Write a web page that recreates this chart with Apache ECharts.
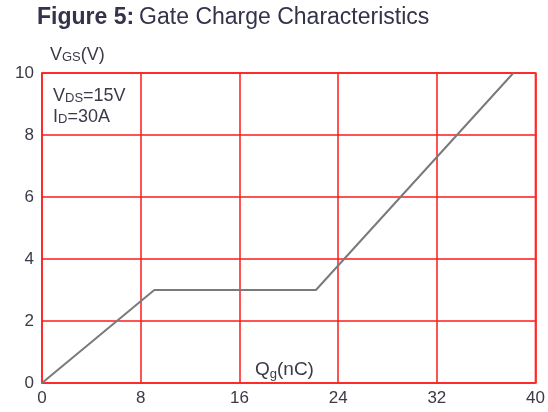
<!DOCTYPE html>
<html>
<head>
<meta charset="utf-8">
<script src="https://cdn.jsdelivr.net/npm/echarts@6/dist/echarts.min.js"></script>
<style>
  html, body { margin: 0; padding: 0; background: #fff; }
  #chart { width: 548px; height: 412px; }
</style>
</head>
<body>
<div id="chart"></div>
<script>
// Gate charge curve: Qg (nC) vs VGS (V)
const gateCharge = [0, 9.1, 22.2, 38.2];
const gateVoltage = [0, 3.0, 3.0, 10];
const xTicks = [0, 8, 16, 24, 32, 40];
const yTicks = [0, 2, 4, 6, 8, 10];

const FONT = '"Liberation Sans", Arial, sans-serif';
const TEXT = '#3a3a48';
const RED = '#ff1a1a';

const chart = echarts.init(document.getElementById('chart'), null, { renderer: 'canvas' });

// main text token + smaller "subscript" token kept near the main baseline
function styles(size, subSize, lh, lift) {
  return {
    m: { fontSize: size, fontWeight: 'normal', fontFamily: FONT, color: TEXT, lineHeight: lh },
    s: { fontSize: subSize, fontWeight: 'normal', fontFamily: FONT, color: TEXT, lineHeight: lh, verticalAlign: 'bottom', padding: [0, 0, lift, 0] }
  };
}

chart.setOption({
  animation: false,
  backgroundColor: '#fff',
  title: [
    {
      text: '{b|Figure 5:} {n|Gate Charge Characteristics}',
      left: 37, top: 6, padding: 0,
      textStyle: {
        fontWeight: 'normal',
        rich: {
          b: { fontSize: 23, fontWeight: 'bold', fontFamily: FONT, color: '#33334a', lineHeight: 23 },
          n: { fontSize: 23, fontWeight: 'normal', fontFamily: FONT, color: '#33334a', lineHeight: 23 }
        }
      }
    },
    {
      text: '{m|V}{s|DS}{m|=15V}\n{m|I}{s|D}{m|=30A}',
      left: 53, top: 86, padding: 0,
      textStyle: { fontWeight: 'normal', rich: styles(18, 13, 21, 2) }
    },
    {
      text: '{m|V}{s|GS}{m|(V)}',
      left: 50, top: 45, padding: 0,
      textStyle: { fontWeight: 'normal', rich: styles(18, 13, 21, 2) }
    },
    {
      text: '{m|Q}{s|g}{m|(nC)}',
      left: 255, top: 359, padding: 0,
      textStyle: { fontWeight: 'normal', rich: styles(19, 13, 22, 0) }
    }
  ],
  grid: { left: 42, right: 12, top: 73, bottom: 29, show: true, borderColor: '#ff5c5c', borderWidth: 2 },
  xAxis: {
    type: 'value', min: xTicks[0], max: xTicks[xTicks.length - 1], interval: 8,
    axisLine: { show: false }, axisTick: { show: false },
    axisLabel: { fontSize: 17, fontFamily: FONT, color: TEXT, margin: 7 },
    splitLine: { lineStyle: { color: RED, width: 1.5 } }
  },
  yAxis: {
    type: 'value', min: yTicks[0], max: yTicks[yTicks.length - 1], interval: 2,
    axisLine: { show: false }, axisTick: { show: false },
    axisLabel: { fontSize: 17, fontFamily: FONT, color: TEXT, margin: 8 },
    splitLine: { lineStyle: { color: RED, width: 1.5 } }
  },
  series: [{
    type: 'line',
    data: gateCharge.map((q, i) => [q, gateVoltage[i]]),
    showSymbol: false,
    lineStyle: { color: '#7a7a7a', width: 2 },
    z: 3
  }]
});
</script>
</body>
</html>
